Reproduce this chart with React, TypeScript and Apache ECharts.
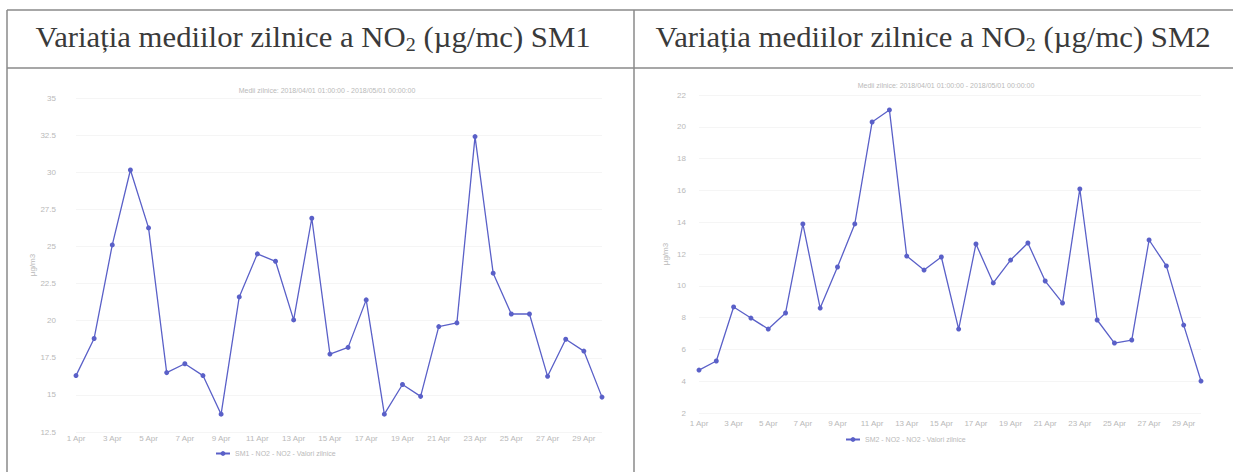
import React, { useEffect, useRef } from "react";
import * as echarts from "echarts";

const catsLeft = [
  "1 Apr", "2 Apr", "3 Apr", "4 Apr", "5 Apr", "6 Apr", "7 Apr", "8 Apr", "9 Apr", "10 Apr",
  "11 Apr", "12 Apr", "13 Apr", "14 Apr", "15 Apr", "16 Apr", "17 Apr", "18 Apr", "19 Apr", "20 Apr",
  "21 Apr", "22 Apr", "23 Apr", "24 Apr", "25 Apr", "26 Apr", "27 Apr", "28 Apr", "29 Apr", "30 Apr",
];
const valuesLeft = [
  16.3, 18.8, 25.1, 30.15, 26.25, 16.5, 17.1, 16.3, 13.7, 21.6,
  24.5, 24.0, 20.05, 26.9, 17.75, 18.2, 21.4, 13.7, 15.7, 14.9,
  19.6, 19.85, 32.4, 23.2, 20.45, 20.45, 16.25, 18.75, 17.95, 14.85,
];
const catsRight = [
  "1 Apr", "2 Apr", "3 Apr", "4 Apr", "5 Apr", "6 Apr", "7 Apr", "8 Apr", "9 Apr", "10 Apr",
  "11 Apr", "12 Apr", "13 Apr", "14 Apr", "15 Apr", "16 Apr", "17 Apr", "18 Apr", "19 Apr", "20 Apr",
  "21 Apr", "22 Apr", "23 Apr", "24 Apr", "25 Apr", "26 Apr", "27 Apr", "28 Apr", "29 Apr", "30 Apr",
];
const valuesRight = [
  4.7, 5.27, 8.67, 7.97, 7.28, 8.29, 13.89, 8.6, 11.18, 13.89,
  20.3, 21.06, 11.87, 10.99, 11.81, 7.28, 12.63, 10.18, 11.62, 12.69,
  10.3, 8.92, 16.09, 7.85, 6.4, 6.59, 12.88, 11.25, 7.53, 4.01,
];
const seriesLeft = "SM1 - NO2 - NO2 - Valori zilnice";
const seriesRight = "SM2 - NO2 - NO2 - Valori zilnice";
const subLeft = "Medii zilnice: 2018/04/01 01:00:00 - 2018/05/01 00:00:00";
const subRight = "Medii zilnice: 2018/04/01 01:00:00 - 2018/05/01 00:00:00";
const yName = "µg/m3";

const LINE = "#5a60c8";
const FAINT = "#b9b9b9";

function titleText(x: number, suffix: string) {
  return {
    type: "text",
    x,
    y: 37,
    scaleX: 1.06,
    style: {
      text: "{a|Variația mediilor zilnice a NO}{s|2}{a| (µg/mc) " + suffix + "}",
      align: "center",
      verticalAlign: "middle",
      rich: {
        a: { fontFamily: "Liberation Serif", fontSize: 29, fill: "#3a3a3a", lineHeight: 35 },
        s: { fontFamily: "Liberation Serif", fontSize: 19, fill: "#3a3a3a", lineHeight: 19, verticalAlign: "bottom" },
      },
    },
  };
}

export default function App() {
  const ref = useRef<HTMLDivElement>(null);
  useEffect(() => {
    if (!ref.current) return;
    const chart = echarts.init(ref.current, null, { renderer: "svg" });
    const axisCommon = {
      axisLine: { show: false },
      axisTick: { show: false },
    };
    chart.setOption({
      animation: false,
      backgroundColor: "#ffffff",
      textStyle: { fontFamily: "Liberation Sans" },
      title: [
        { text: subLeft, left: 322, top: 82, textAlign: "center", textStyle: { fontSize: 7, fontWeight: "normal", color: FAINT } },
        { text: subRight, left: 941, top: 77, textAlign: "center", textStyle: { fontSize: 7, fontWeight: "normal", color: FAINT } },
      ],
      legend: [
        { data: [seriesLeft], left: 210, top: 445, itemWidth: 14, itemHeight: 6, itemGap: 4, textStyle: { fontSize: 7, color: FAINT } },
        { data: [seriesRight], left: 840, top: 431, itemWidth: 14, itemHeight: 6, itemGap: 4, textStyle: { fontSize: 7, color: FAINT } },
      ],
      grid: [
        { left: 76, right: 631, top: 98, bottom: 40 },
        { left: 699, right: 32, top: 95, bottom: 59 },
      ],
      xAxis: [
        {
          type: "category", gridIndex: 0, data: catsLeft, boundaryGap: false, ...axisCommon,
          axisLabel: { interval: 1, fontSize: 8, color: FAINT, margin: 2 },
          splitLine: { show: false },
        },
        {
          type: "category", gridIndex: 1, data: catsRight, boundaryGap: false, ...axisCommon,
          axisLabel: { interval: 1, fontSize: 8, color: FAINT, margin: 6 },
          splitLine: { show: false },
        },
      ],
      yAxis: [
        {
          type: "value", gridIndex: 0, min: 12.5, max: 35, interval: 2.5, ...axisCommon,
          name: yName, nameLocation: "middle", nameGap: 32, nameTextStyle: { fontSize: 8, color: FAINT },
          axisLabel: { fontSize: 8, color: FAINT, margin: 20 },
          splitLine: { lineStyle: { color: "#f5f5f5" } },
        },
        {
          type: "value", gridIndex: 1, min: 2, max: 22, interval: 2, ...axisCommon,
          name: yName, nameLocation: "middle", nameGap: 30, nameTextStyle: { fontSize: 8, color: FAINT },
          axisLabel: { fontSize: 8, color: FAINT, margin: 13 },
          splitLine: { lineStyle: { color: "#f5f5f5" } },
        },
      ],
      series: [
        {
          name: seriesLeft, type: "line", xAxisIndex: 0, yAxisIndex: 0, data: valuesLeft,
          symbol: "circle", symbolSize: 5, lineStyle: { color: LINE, width: 1.3 }, itemStyle: { color: LINE },
        },
        {
          name: seriesRight, type: "line", xAxisIndex: 1, yAxisIndex: 1, data: valuesRight,
          symbol: "circle", symbolSize: 5, lineStyle: { color: LINE, width: 1.3 }, itemStyle: { color: LINE },
        },
      ],
      graphic: [
        { type: "line", shape: { x1: 7, y1: 10, x2: 1233, y2: 10 }, style: { stroke: "#8a8a8a", lineWidth: 1.5 } },
        { type: "line", shape: { x1: 7, y1: 68, x2: 1233, y2: 68 }, style: { stroke: "#8a8a8a", lineWidth: 1.5 } },
        { type: "line", shape: { x1: 7, y1: 10, x2: 7, y2: 472 }, style: { stroke: "#8a8a8a", lineWidth: 1.5 } },
        { type: "line", shape: { x1: 634, y1: 10, x2: 634, y2: 472 }, style: { stroke: "#8a8a8a", lineWidth: 1.5 } },
        titleText(313, "SM1"),
        titleText(933, "SM2"),
      ],
    });
    return () => chart.dispose();
  }, []);
  return <div ref={ref} style={{ position: "fixed", left: 0, top: 0, width: 1233, height: 472 }} />;
}
